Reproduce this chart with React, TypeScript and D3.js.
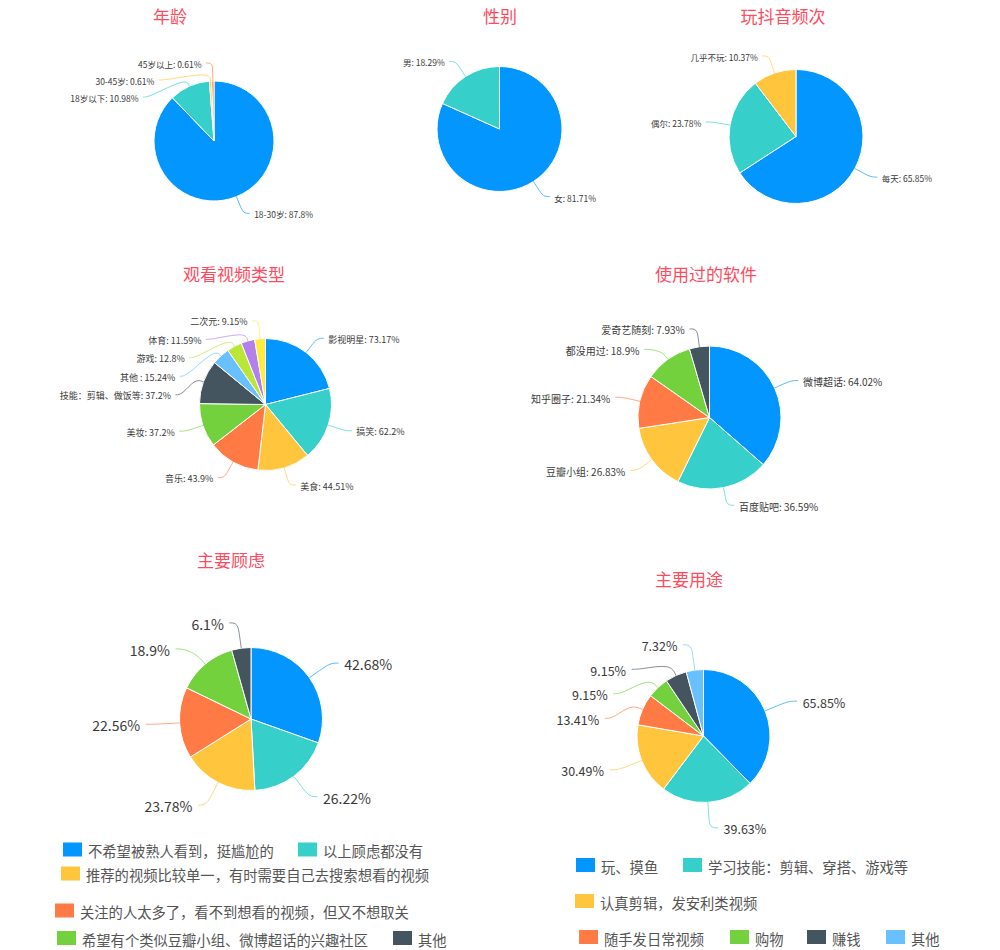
import React from 'react';
import * as d3 from 'd3';

// palette used by every pie
const palette = ['#0396ff', '#36cfc9', '#ffc53d', '#ff7a45', '#73d13d', '#455560', '#69c0ff', '#bae637', '#b37feb', '#ffec3d'];

// 年龄
const ageNames = ['18-30岁', '18岁以下', '30-45岁', '45岁以上'];
const ageValues = [87.8, 10.98, 0.61, 0.61];
// 性别
const genderNames = ['女', '男'];
const genderValues = [81.71, 18.29];
// 玩抖音频次
const freqNames = ['每天', '偶尔', '几乎不玩'];
const freqValues = [65.85, 23.78, 10.37];
// 观看视频类型
const videoNames = ['影视明星', '搞笑', '美食', '音乐', '美妆', '技能：剪辑、做饭等', '其他 ', '游戏', '体育', '二次元'];
const videoValues = [73.17, 62.2, 44.51, 43.9, 37.2, 37.2, 15.24, 12.8, 11.59, 9.15];
// 使用过的软件
const appNames = ['微博超话', '百度贴吧', '豆瓣小组', '知乎圈子', '都没用过', '爱奇艺随刻'];
const appValues = [64.02, 36.59, 26.83, 21.34, 18.9, 7.93];
// 主要顾虑
const concernNames = [
  '不希望被熟人看到，挺尴尬的',
  '以上顾虑都没有',
  '推荐的视频比较单一，有时需要自己去搜索想看的视频',
  '关注的人太多了，看不到想看的视频，但又不想取关',
  '希望有个类似豆瓣小组、微博超话的兴趣社区',
  '其他',
];
const concernValues = [42.68, 26.22, 23.78, 22.56, 18.9, 6.1];
// 主要用途
const purposeNames = ['玩、摸鱼', '学习技能：剪辑、穿搭、游戏等', '认真剪辑，发安利类视频', '随手发日常视频', '购物', '赚钱', '其他'];
const purposeValues = [65.85, 39.63, 30.49, 13.41, 9.15, 9.15, 7.32];

const FONT = '"Noto Sans CJK SC", "Noto Sans", sans-serif';

interface PieSpec {
  title: string;
  tx: number;
  ty: number;
  names: string[];
  values: number[];
  cx: number;
  cy: number;
  r: number;
  labelR: number;
  fontSize: number;
  spacing: number;
  gap: number;
  withName: boolean;
  legend?: { y: number; items: [number, number][] }[];
}

const charts: PieSpec[] = [
  { title: '年龄', tx: 170, ty: 15, names: ageNames, values: ageValues, cx: 214, cy: 141, r: 60, labelR: 78, fontSize: 8.5, spacing: 17, gap: 11, withName: true },
  { title: '性别', tx: 500, ty: 15, names: genderNames, values: genderValues, cx: 499.5, cy: 129, r: 62.5, labelR: 80.5, fontSize: 8.5, spacing: 17, gap: 11, withName: true },
  { title: '玩抖音频次', tx: 783, ty: 15, names: freqNames, values: freqValues, cx: 796, cy: 136.5, r: 67, labelR: 85, fontSize: 8.5, spacing: 17, gap: 11, withName: true },
  { title: '观看视频类型', tx: 234, ty: 273, names: videoNames, values: videoValues, cx: 265.5, cy: 404.5, r: 66, labelR: 84, fontSize: 9, spacing: 18.5, gap: 11, withName: true },
  { title: '使用过的软件', tx: 706, ty: 273, names: appNames, values: appValues, cx: 709.5, cy: 417.5, r: 71.5, labelR: 89.5, fontSize: 10, spacing: 20.5, gap: 12, withName: true },
  {
    title: '主要顾虑', tx: 231, ty: 559, names: concernNames, values: concernValues, cx: 251, cy: 719, r: 71.5, labelR: 97, fontSize: 14, spacing: 26, gap: 14, withName: false,
    legend: [
      { y: 849.5, items: [[0, 63], [1, 298]] },
      { y: 873.5, items: [[2, 61]] },
      { y: 910.5, items: [[3, 55]] },
      { y: 938, items: [[4, 57], [5, 393]] },
    ],
  },
  {
    title: '主要用途', tx: 689, ty: 578, names: purposeNames, values: purposeValues, cx: 703.5, cy: 736, r: 66.5, labelR: 92, fontSize: 12.5, spacing: 24.5, gap: 14, withName: false,
    legend: [
      { y: 865, items: [[0, 576], [1, 683]] },
      { y: 901, items: [[2, 575]] },
      { y: 937, items: [[3, 579], [4, 730], [5, 807], [6, 886]] },
    ],
  },
];

interface LabelPos { i: number; mid: number; right: boolean; x: number; y: number; }

function layoutLabels(arcs: d3.PieArcDatum<number>[], s: PieSpec): LabelPos[] {
  const R = s.labelR;
  const items: LabelPos[] = arcs.map((a, i) => {
    const mid = (a.startAngle + a.endAngle) / 2;
    return { i, mid, right: mid < Math.PI, x: 0, y: s.cy - R * Math.cos(mid) };
  });
  [true, false].forEach(side => {
    const group = items.filter(d => d.right === side).sort((a, b) => a.y - b.y);
    let prev = s.cy - R - s.spacing;
    group.forEach(d => { d.y = Math.max(d.y, prev + s.spacing); prev = d.y; });
    let next = s.cy + R + s.spacing;
    for (let k = group.length - 1; k >= 0; k--) {
      group[k].y = Math.min(group[k].y, next - s.spacing);
      next = group[k].y;
    }
  });
  items.forEach(d => {
    const dy = d.y - s.cy;
    const off = Math.sqrt(Math.max(R * R - dy * dy, 0));
    d.x = s.cx + (d.right ? off : -off);
  });
  return items;
}

const fmt = (v: number) => `${v}%`;

function Pie({ s }: { s: PieSpec }) {
  const pie = d3.pie<number>().sort(null).value(d => d);
  const arcs = pie(s.values);
  const arc = d3.arc<d3.PieArcDatum<number>>().innerRadius(0).outerRadius(s.r);
  const labels = layoutLabels(arcs, s);
  const line = d3.line<[number, number]>().curve(d3.curveBasis);

  return (
    <g>
      <text x={s.tx} y={s.ty} textAnchor="middle" dominantBaseline="central" fontSize={17}
        fontFamily={FONT} fill="#ff4b5e">{s.title}</text>
      <g transform={`translate(${s.cx},${s.cy})`}>
        {arcs.map((a, i) => (
          <path key={i} d={arc(a) || ''} fill={palette[i % palette.length]} stroke="#fff" strokeWidth={1} />
        ))}
      </g>
      {labels.map(l => {
        const sign = l.right ? 1 : -1;
        const p0: [number, number] = [s.cx + s.r * Math.sin(l.mid), s.cy - s.r * Math.cos(l.mid)];
        const rm = (s.r + s.labelR) / 2;
        const p1: [number, number] = [s.cx + rm * Math.sin(l.mid), s.cy - rm * Math.cos(l.mid)];
        const p2: [number, number] = [l.x, l.y];
        const p3: [number, number] = [l.x + sign * s.gap * 0.6, l.y];
        const color = palette[l.i % palette.length];
        const txt = s.withName ? `${s.names[l.i]}: ${fmt(s.values[l.i])}` : fmt(s.values[l.i]);
        return (
          <g key={l.i}>
            <path d={line([p0, p1, p2, p3]) || ''} fill="none" stroke={color} strokeOpacity={0.65} strokeWidth={1} />
            <text x={l.x + sign * s.gap} y={l.y + 1} textAnchor={l.right ? 'start' : 'end'} dominantBaseline="central"
              fontSize={s.fontSize} fontFamily={FONT} fill="#3a3a3a">{txt}</text>
          </g>
        );
      })}
      {s.legend && s.legend.map((row, ri) => (
        <g key={ri}>
          {row.items.map(([idx, x]) => (
            <g key={idx}>
              <rect x={x} y={row.y - 7} width={19} height={14} fill={palette[idx % palette.length]} />
              <text x={x + 25} y={row.y + 1} dominantBaseline="central" fontSize={14.3} fontFamily={FONT} fill="#555">
                {s.names[idx]}
              </text>
            </g>
          ))}
        </g>
      ))}
    </g>
  );
}

export default function App() {
  return (
    <div style={{ position: 'absolute', left: 0, top: 0, width: 1000, height: 950, background: '#fff' }}>
      <svg width={1000} height={950} viewBox="0 0 1000 950" style={{ display: 'block' }}>
        <rect width={1000} height={950} fill="#fff" />
        {charts.map((s, i) => <Pie key={i} s={s} />)}
      </svg>
    </div>
  );
}
